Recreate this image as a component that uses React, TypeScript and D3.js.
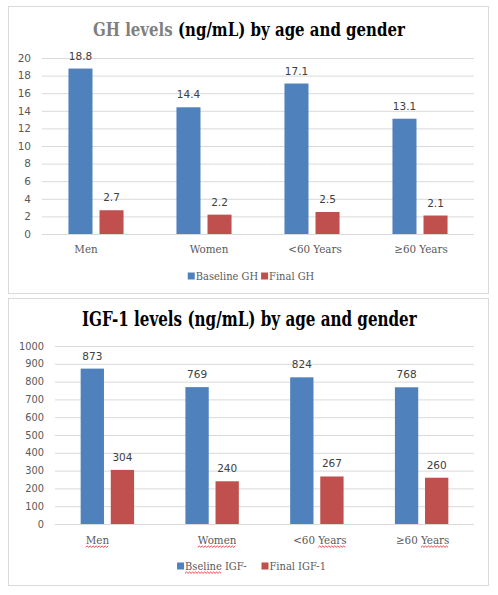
import React, { useEffect, useRef } from "react";
import * as d3 from "d3";

const categories = ["Men", "Women", "<60 Years", "≥60 Years"];

const ghSeries = ["Baseline GH", "Final GH"];
const ghBaseline = [18.8, 14.4, 17.1, 13.1];
const ghFinal = [2.7, 2.2, 2.5, 2.1];
const ghTicks = [0, 2, 4, 6, 8, 10, 12, 14, 16, 18, 20];

const igfSeries = ["Bseline IGF-", "Final IGF-1"];
const igfBaseline = [873, 769, 824, 768];
const igfFinal = [304, 240, 267, 260];
const igfTicks = [0, 100, 200, 300, 400, 500, 600, 700, 800, 900, 1000];

// words the word processor flagged with a red squiggle (second chart only)
const flaggedWords = ["Men", "Women", "Years", "Bseline"];

const colors = ["#4f81bd", "#c0504d"];
const SERIF = "'DejaVu Serif Condensed', 'DejaVu Serif', serif";
const SANS = "'DejaVu Sans', sans-serif";
// category labels sit a little off their group centre in the original
const labelNudge = [-10, 5, 3, 1];

const ghChart = {
    frame: [8.5, 6.5, 480, 287],
    title: [
        { text: "GH levels ", color: "#7f7f7f" },
        { text: "(ng/mL) by age and gender", color: "#000" },
    ],
    titleX: [93, 405],
    titleY: 36,
    titleSize: 19,
    plot: { left: 42, right: 474, top: 58, bottom: 234 },
    ticks: ghTicks,
    tickSize: 10.5,
    series: ghSeries,
    values: [ghBaseline, ghFinal],
    catY: 253,
    legendY: 276,
    legendGap: 3,
    legendCenter: 251,
    squiggle: false,
};

const igfChart = {
    frame: [8.5, 298.5, 480, 287],
    title: [{ text: "IGF-1 levels (ng/mL) by age and gender", color: "#000" }],
    titleX: [82, 417],
    titleY: 326,
    titleSize: 21,
    plot: { left: 55, right: 474, top: 346, bottom: 524 },
    ticks: igfTicks,
    tickSize: 9.8,
    series: igfSeries,
    values: [igfBaseline, igfFinal],
    catY: 544,
    legendY: 566,
    legendGap: 15,
    legendCenter: 251.5,
    squiggle: true,
};

function squiggle(g: any, x0: number, x1: number, y: number) {
    const pts: [number, number][] = [];
    let up = false;
    for (let x = x0; x <= x1; x += 1.5) {
        pts.push([x, up ? y : y + 1.3]);
        up = !up;
    }
    g.append("path")
        .attr("d", d3.line()(pts))
        .attr("fill", "none")
        .attr("stroke", "#e01b1b")
        .attr("stroke-width", 0.8);
}

function markWords(g: any, textSel: any, label: string, baseline: number) {
    const node = textSel.node() as SVGTextElement;
    flaggedWords.forEach((w) => {
        const i = label.indexOf(w);
        if (i < 0) return;
        const a = node.getStartPositionOfChar(i).x;
        const b = node.getEndPositionOfChar(i + w.length - 1).x;
        squiggle(g, a, b, baseline + 2);
    });
}

function drawChart(svg: any, c: any) {
    const g = svg.append("g");
    const [fx, fy, fw, fh] = c.frame;
    g.append("rect")
        .attr("x", fx).attr("y", fy).attr("width", fw).attr("height", fh)
        .attr("fill", "#fff").attr("stroke", "#d9d9d9");

    // title, squeezed to the width it has in the original
    const title = g.append("text")
        .attr("font-family", SERIF)
        .attr("font-weight", "bold")
        .attr("font-size", c.titleSize);
    c.title.forEach((s: any) => title.append("tspan").attr("fill", s.color).text(s.text));
    const len = (title.node() as SVGTextElement).getComputedTextLength();
    title.attr("transform", `translate(${c.titleX[0]},${c.titleY}) scale(${(c.titleX[1] - c.titleX[0]) / len},1)`);

    const { left, right, top, bottom } = c.plot;
    const y = d3.scaleLinear().domain([0, c.ticks[c.ticks.length - 1]]).range([bottom, top]);
    const x0 = d3.scaleBand().domain(categories).range([left, right]).paddingInner(0.49).paddingOuter(0.245);
    const x1 = d3.scaleBand().domain(c.series).range([0, x0.bandwidth()]).paddingInner(7 / 31);

    const axis = g.append("g")
        .attr("transform", `translate(${left},0)`)
        .call(d3.axisLeft(y).tickValues(c.ticks).tickFormat(d3.format("d")).tickSize(-(right - left)).tickPadding(11));
    axis.select(".domain").remove();
    axis.selectAll("line").attr("stroke", "#d9d9d9");
    axis.selectAll("text")
        .attr("font-family", SANS)
        .attr("font-size", c.tickSize)
        .attr("fill", "#595959");

    c.series.forEach((s: string, si: number) => {
        const vals: number[] = c.values[si];
        g.selectAll(null)
            .data(vals)
            .enter()
            .append("rect")
            .attr("x", (d: number, i: number) => x0(categories[i])! + x1(s)!)
            .attr("y", (d: number) => y(d))
            .attr("width", x1.bandwidth())
            .attr("height", (d: number) => y(0) - y(d))
            .attr("fill", colors[si]);
        g.selectAll(null)
            .data(vals)
            .enter()
            .append("text")
            .attr("x", (d: number, i: number) => x0(categories[i])! + x1(s)! + x1.bandwidth() / 2)
            .attr("y", (d: number) => y(d) - 9)
            .attr("text-anchor", "middle")
            .attr("font-family", SANS)
            .attr("font-size", 10.5)
            .attr("fill", "#404040")
            .text((d: number) => String(d));
    });

    categories.forEach((cat, i) => {
        const t = g.append("text")
            .attr("x", x0(cat)! + x0.bandwidth() / 2 + labelNudge[i])
            .attr("y", c.catY)
            .attr("text-anchor", "middle")
            .attr("font-family", SERIF)
            .attr("font-size", 11.5)
            .attr("fill", "#595959")
            .text(cat);
        if (c.squiggle) markWords(g, t, cat, c.catY);
    });

    // legend, centred under the plot
    const leg = g.append("g");
    let cx = 0;
    c.series.forEach((s: string, si: number) => {
        if (si > 0) cx += c.legendGap;
        leg.append("rect")
            .attr("x", cx).attr("y", c.legendY - 3.5)
            .attr("width", 7).attr("height", 7)
            .attr("fill", colors[si]);
        cx += 8;
        const t = leg.append("text")
            .attr("x", cx)
            .attr("y", c.legendY + 4)
            .attr("font-family", SERIF)
            .attr("font-size", 11)
            .attr("fill", "#595959")
            .text(s);
        if (c.squiggle) markWords(leg, t, s, c.legendY + 4);
        cx += (t.node() as SVGTextElement).getComputedTextLength();
    });
    leg.attr("transform", `translate(${c.legendCenter - cx / 2},0)`);
}

export default function App() {
    const ref = useRef<SVGSVGElement>(null);
    useEffect(() => {
        document.body.style.margin = "0";
        const svg = d3.select(ref.current);
        svg.selectAll("*").remove();
        drawChart(svg, ghChart);
        drawChart(svg, igfChart);
    }, []);
    return <svg ref={ref} width={498} height={595} style={{ display: "block", background: "#fff" }} />;
}
